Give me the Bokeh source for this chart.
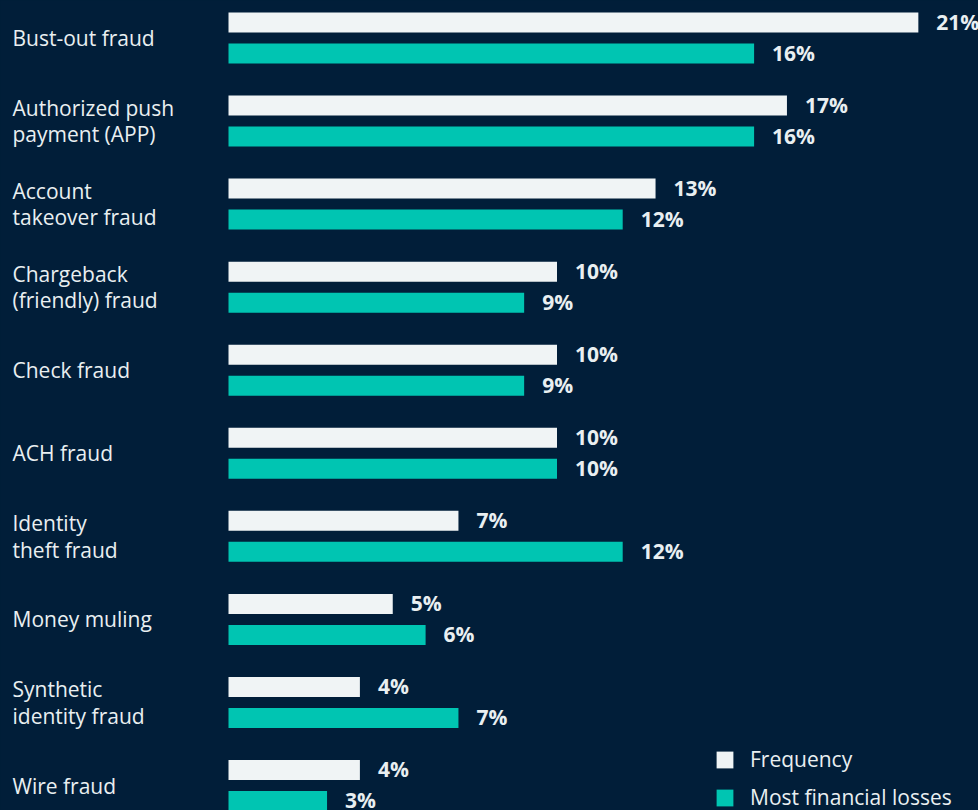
from bokeh.plotting import figure
from bokeh.models import ColumnDataSource, Range1d, Legend, LegendItem, GlobalInlineStyleSheet
from bokeh.core.properties import value
from bokeh.embed import file_html
from bokeh.resources import INLINE

categories = ["Bust-out fraud", "Authorized push\npayment (APP)", "Account\ntakeover fraud",
              "Chargeback\n(friendly) fraud", "Check fraud", "ACH fraud", "Identity\ntheft fraud",
              "Money muling", "Synthetic\nidentity fraud", "Wire fraud"]
frequency = [21, 17, 13, 10, 10, 10, 7, 5, 4, 4]
losses = [16, 16, 12, 9, 9, 10, 12, 6, 7, 3]
series_names = ["Frequency", "Most financial losses"]

BG = "#011e39"
WHITE = "#f0f4f5"
TEAL = "#00c5b2"
TEXT = "#e9eff1"
FONT = "Open Sans"

W, H = 978, 810
PX_PER_PCT = 32.85
BAR_X0 = 228          # px from left where value 0 sits
PITCH = 83.06
FIRST = 37.5          # px from top for group 0 centre

x0 = -BAR_X0 / PX_PER_PCT
x1 = (W - BAR_X0) / PX_PER_PCT
y_top = -FIRST / PITCH
y_bot = (H - FIRST) / PITCH

idx = list(range(len(categories)))
off = 15.5 / PITCH
bh = 20 / PITCH
src = ColumnDataSource(dict(
    y=idx,
    y_f=[i - off for i in idx],
    y_l=[i + off for i in idx],
    freq=frequency,
    loss=losses,
    freq_lbl=[f"{v}%" for v in frequency],
    loss_lbl=[f"{v}%" for v in losses],
    cat=categories,
    lx=[x0 + 12 / PX_PER_PCT] * len(idx),
))

p = figure(width=W, height=H, x_range=Range1d(x0, x1), y_range=Range1d(y_bot, y_top),
           output_backend="svg", toolbar_location=None, min_border=0,
           background_fill_color=BG, border_fill_color=BG, outline_line_color=None)
p.axis.visible = False
p.grid.visible = False

r1 = p.hbar(y="y_f", right="freq", left=0, height=bh, source=src, fill_color=WHITE, line_color=None)
r2 = p.hbar(y="y_l", right="loss", left=0, height=bh, source=src, fill_color=TEAL, line_color=None)

p.text(x="freq", y="y_f", text="freq_lbl", source=src, x_offset=18, y_offset=-1,
       text_baseline="middle", text_align="left", text_font=value(FONT),
       text_font_style="bold", text_font_size="21px", text_color=TEXT)
p.text(x="loss", y="y_l", text="loss_lbl", source=src, x_offset=18, y_offset=-1,
       text_baseline="middle", text_align="left", text_font=value(FONT),
       text_font_style="bold", text_font_size="21px", text_color=TEXT)
p.text(x="lx", y="y", text="cat", source=src, text_baseline="middle", text_align="left",
       text_font=value(FONT), text_font_size="21px", text_line_height=0.95, text_color=TEXT)

legend = Legend(items=[LegendItem(label=series_names[0], renderers=[r1]),
                       LegendItem(label=series_names[1], renderers=[r2])],
                location=(714, -1), padding=0, margin=0, spacing=10,
                glyph_width=21, glyph_height=21, label_height=21, label_standoff=15,
                label_text_font=FONT, label_text_font_size="21px", label_text_color=TEXT,
                background_fill_alpha=0, border_line_alpha=0)
p.add_layout(legend)

p.stylesheets = [GlobalInlineStyleSheet(css=f"body {{ background: {BG}; }}")]

open("out.html", "w").write(file_html(p, INLINE))
